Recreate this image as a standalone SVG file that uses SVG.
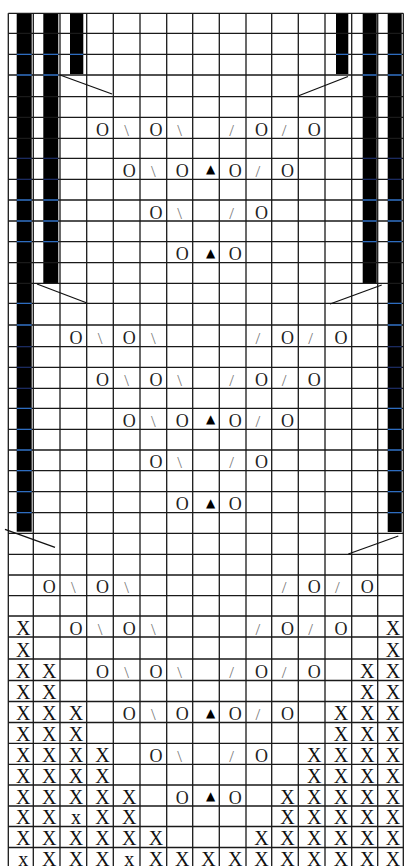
<svg xmlns="http://www.w3.org/2000/svg" width="405" height="866" viewBox="0 0 405 866">
<style>
.ln{stroke:#1a1a1a;stroke-width:1.3;fill:none}
.bar{fill:#000}
.bl{stroke:#2d6cc0;stroke-width:1.3;fill:none}
.nv{stroke:#1a2a60;stroke-width:1.3;fill:none}
.d{stroke:#111;stroke-width:1.3;fill:none}
.X{font-family:"Liberation Serif",serif;font-size:20px;fill:#111;text-anchor:middle}
.O{font-family:"Liberation Serif",serif;font-size:18px;fill:#222;text-anchor:middle}
.S{font-family:"Liberation Serif",serif;font-size:17px;fill:#777;text-anchor:middle}
.T{font-family:"DejaVu Sans",sans-serif;font-size:12px;fill:#000;text-anchor:middle}
</style>
<rect x="0" y="0" width="405" height="866" fill="#fff"/>
<g id="bars">
<rect class="bar" x="16.7" y="13.3" width="15" height="518.4"/>
<rect class="bar" x="43.3" y="13.3" width="15" height="269.7"/>
<rect class="bar" x="70" y="13.3" width="13.3" height="60.7"/>
<rect class="bar" x="336" y="13.3" width="12.3" height="60.7"/>
<rect class="bar" x="362.7" y="13.3" width="14" height="269.7"/>
<rect class="bar" x="387.7" y="13.3" width="14" height="518.7"/>
</g>
<g id="grid">
<path class="ln" d="M8.3 13.3H403.3M8.3 33.3H403.3M8.3 54.3H403.3M8.3 75H403.3M8.3 96.7H403.3M8.3 117.3H403.3M8.3 138.3H403.3M8.3 158.3H403.3M8.3 179.3H403.3M8.3 200H403.3M8.3 221H403.3M8.3 241.7H403.3M8.3 262.7H403.3M8.3 283.3H403.3M8.3 303.3H403.3M8.3 325H403.3M8.3 346.7H403.3M8.3 367.3H403.3M8.3 388.3H403.3M8.3 408.3H403.3M8.3 429.3H403.3M8.3 450H403.3M8.3 470.7H403.3M8.3 491.7H403.3M8.3 512.7H403.3M8.3 533.3H403.3M8.3 554.3H403.3M8.3 575H403.3M8.3 595.7H403.3M8.3 616H403.3M8.3 637H403.3M8.3 659H403.3M8.3 680.5H403.3M8.3 701.5H403.3M8.3 722.5H403.3M8.3 743.3H403.3M8.3 764.3H403.3M8.3 785H403.3M8.3 806H403.3M8.3 826.5H403.3M8.3 847.5H403.3"/>
<path class="ln" d="M8.3 13.3V866M33.3 13.3V866M60 13.3V866M86.7 13.3V866M113.3 13.3V866M140 13.3V866M166.7 13.3V866M192.7 13.3V866M219.3 13.3V866M246 13.3V866M271.7 13.3V866M298.3 13.3V866M325 13.3V866M351.7 13.3V866M377.7 13.3V866M403.3 13.3V866"/>
<path class="bl" d="M16.7 54.3H31.7M43.3 54.3H58.3M70 54.3H83.3M336 54.3H348.3M362.7 54.3H376.7M387.7 54.3H401.7M16.7 75H31.7M43.3 75H58.3M362.7 75H376.7M387.7 75H401.7M16.7 200H31.7M43.3 200H58.3M362.7 200H376.7M387.7 200H401.7M16.7 221H31.7M43.3 221H58.3M362.7 221H376.7M387.7 221H401.7M16.7 241.7H31.7M43.3 241.7H58.3M362.7 241.7H376.7M387.7 241.7H401.7M16.7 303.3H31.7M387.7 303.3H401.7M16.7 325H31.7M387.7 325H401.7M16.7 408.3H31.7M387.7 408.3H401.7M16.7 429.3H31.7M387.7 429.3H401.7M16.7 450H31.7M387.7 450H401.7M16.7 470.7H31.7M387.7 470.7H401.7M16.7 491.7H31.7M387.7 491.7H401.7M16.7 512.7H31.7M387.7 512.7H401.7"/>
<path class="nv" d="M16.7 158.3H31.7M43.3 158.3H58.3M362.7 158.3H376.7M387.7 158.3H401.7M16.7 179.3H31.7M43.3 179.3H58.3M362.7 179.3H376.7M387.7 179.3H401.7M16.7 346.7H31.7M387.7 346.7H401.7M16.7 367.3H31.7M387.7 367.3H401.7M16.7 388.3H31.7M387.7 388.3H401.7"/>
</g>
<g id="connectors">
<line class="d" x1="60" y1="75" x2="112" y2="94"/>
<line class="d" x1="348" y1="76.5" x2="298" y2="96"/>
<line class="d" x1="37" y1="284" x2="87" y2="303"/>
<line class="d" x1="381.7" y1="285" x2="330" y2="304"/>
<line class="d" x1="5" y1="529.3" x2="55" y2="547.3"/>
<line class="d" x1="398.3" y1="536" x2="348.3" y2="554"/>
</g>
<g id="symbols">
<text class="O" x="102.5" y="135.8">O</text><text class="S" x="126.7" y="135.8">\</text><text class="O" x="155.9" y="135.8">O</text><text class="S" x="179.7" y="135.8">\</text><text class="S" x="231.6" y="135.8">/</text><text class="O" x="261.4" y="135.8">O</text><text class="S" x="284" y="135.8">/</text><text class="O" x="314.2" y="135.8">O</text>
<text class="O" x="129.2" y="176.8">O</text><text class="S" x="153.4" y="176.8">\</text><text class="O" x="182.2" y="176.8">O</text><text class="T" x="210.5" y="173.3">▲</text><text class="O" x="235.2" y="176.8">O</text><text class="S" x="257.9" y="176.8">/</text><text class="O" x="287.5" y="176.8">O</text>
<text class="O" x="155.9" y="218.5">O</text><text class="S" x="179.7" y="218.5">\</text><text class="S" x="231.6" y="218.5">/</text><text class="O" x="261.4" y="218.5">O</text>
<text class="O" x="182.2" y="260.2">O</text><text class="T" x="210.5" y="256.7">▲</text><text class="O" x="235.2" y="260.2">O</text>
<text class="O" x="75.9" y="344.2">O</text><text class="S" x="100" y="344.2">\</text><text class="O" x="129.2" y="344.2">O</text><text class="S" x="153.4" y="344.2">\</text><text class="S" x="257.9" y="344.2">/</text><text class="O" x="287.5" y="344.2">O</text><text class="S" x="310.7" y="344.2">/</text><text class="O" x="340.9" y="344.2">O</text>
<text class="O" x="102.5" y="385.8">O</text><text class="S" x="126.7" y="385.8">\</text><text class="O" x="155.9" y="385.8">O</text><text class="S" x="179.7" y="385.8">\</text><text class="S" x="231.6" y="385.8">/</text><text class="O" x="261.4" y="385.8">O</text><text class="S" x="284" y="385.8">/</text><text class="O" x="314.2" y="385.8">O</text>
<text class="O" x="129.2" y="426.8">O</text><text class="S" x="153.4" y="426.8">\</text><text class="O" x="182.2" y="426.8">O</text><text class="T" x="210.5" y="423.3">▲</text><text class="O" x="235.2" y="426.8">O</text><text class="S" x="257.9" y="426.8">/</text><text class="O" x="287.5" y="426.8">O</text>
<text class="O" x="155.9" y="468.2">O</text><text class="S" x="179.7" y="468.2">\</text><text class="S" x="231.6" y="468.2">/</text><text class="O" x="261.4" y="468.2">O</text>
<text class="O" x="182.2" y="510.2">O</text><text class="T" x="210.5" y="506.7">▲</text><text class="O" x="235.2" y="510.2">O</text>
<text class="O" x="49.2" y="593.2">O</text><text class="S" x="73.4" y="593.2">\</text><text class="O" x="102.5" y="593.2">O</text><text class="S" x="126.7" y="593.2">\</text><text class="S" x="284" y="593.2">/</text><text class="O" x="314.2" y="593.2">O</text><text class="S" x="337.4" y="593.2">/</text><text class="O" x="367.2" y="593.2">O</text>
<text class="X" x="23.3" y="634.5">X</text><text class="O" x="75.9" y="634.5">O</text><text class="S" x="100" y="634.5">\</text><text class="O" x="129.2" y="634.5">O</text><text class="S" x="153.4" y="634.5">\</text><text class="S" x="257.9" y="634.5">/</text><text class="O" x="287.5" y="634.5">O</text><text class="S" x="310.7" y="634.5">/</text><text class="O" x="340.9" y="634.5">O</text><text class="X" x="393" y="634.5">X</text>
<text class="X" x="23.3" y="656.5">X</text><text class="X" x="393" y="656.5">X</text>
<text class="X" x="23.3" y="678">X</text><text class="X" x="49.2" y="678">X</text><text class="O" x="102.5" y="678">O</text><text class="S" x="126.7" y="678">\</text><text class="O" x="155.9" y="678">O</text><text class="S" x="179.7" y="678">\</text><text class="S" x="231.6" y="678">/</text><text class="O" x="261.4" y="678">O</text><text class="S" x="284" y="678">/</text><text class="O" x="314.2" y="678">O</text><text class="X" x="367.2" y="678">X</text><text class="X" x="393" y="678">X</text>
<text class="X" x="23.3" y="699">X</text><text class="X" x="49.2" y="699">X</text><text class="X" x="367.2" y="699">X</text><text class="X" x="393" y="699">X</text>
<text class="X" x="23.3" y="720">X</text><text class="X" x="49.2" y="720">X</text><text class="X" x="75.9" y="720">X</text><text class="O" x="129.2" y="720">O</text><text class="S" x="153.4" y="720">\</text><text class="O" x="182.2" y="720">O</text><text class="T" x="210.5" y="716.5">▲</text><text class="O" x="235.2" y="720">O</text><text class="S" x="257.9" y="720">/</text><text class="O" x="287.5" y="720">O</text><text class="X" x="340.9" y="720">X</text><text class="X" x="367.2" y="720">X</text><text class="X" x="393" y="720">X</text>
<text class="X" x="23.3" y="740.8">X</text><text class="X" x="49.2" y="740.8">X</text><text class="X" x="75.9" y="740.8">X</text><text class="X" x="340.9" y="740.8">X</text><text class="X" x="367.2" y="740.8">X</text><text class="X" x="393" y="740.8">X</text>
<text class="X" x="23.3" y="761.8">X</text><text class="X" x="49.2" y="761.8">X</text><text class="X" x="75.9" y="761.8">X</text><text class="X" x="102.5" y="761.8">X</text><text class="O" x="155.9" y="761.8">O</text><text class="S" x="179.7" y="761.8">\</text><text class="S" x="231.6" y="761.8">/</text><text class="O" x="261.4" y="761.8">O</text><text class="X" x="314.2" y="761.8">X</text><text class="X" x="340.9" y="761.8">X</text><text class="X" x="367.2" y="761.8">X</text><text class="X" x="393" y="761.8">X</text>
<text class="X" x="23.3" y="782.5">X</text><text class="X" x="49.2" y="782.5">X</text><text class="X" x="75.9" y="782.5">X</text><text class="X" x="102.5" y="782.5">X</text><text class="X" x="314.2" y="782.5">X</text><text class="X" x="340.9" y="782.5">X</text><text class="X" x="367.2" y="782.5">X</text><text class="X" x="393" y="782.5">X</text>
<text class="X" x="23.3" y="803.5">X</text><text class="X" x="49.2" y="803.5">X</text><text class="X" x="75.9" y="803.5">X</text><text class="X" x="102.5" y="803.5">X</text><text class="X" x="129.2" y="803.5">X</text><text class="O" x="182.2" y="803.5">O</text><text class="T" x="210.5" y="800">▲</text><text class="O" x="235.2" y="803.5">O</text><text class="X" x="287.5" y="803.5">X</text><text class="X" x="314.2" y="803.5">X</text><text class="X" x="340.9" y="803.5">X</text><text class="X" x="367.2" y="803.5">X</text><text class="X" x="393" y="803.5">X</text>
<text class="X" x="23.3" y="824">X</text><text class="X" x="49.2" y="824">X</text><text class="X" x="75.9" y="824">x</text><text class="X" x="102.5" y="824">X</text><text class="X" x="129.2" y="824">X</text><text class="X" x="287.5" y="824">X</text><text class="X" x="314.2" y="824">X</text><text class="X" x="340.9" y="824">X</text><text class="X" x="367.2" y="824">X</text><text class="X" x="393" y="824">X</text>
<text class="X" x="23.3" y="845">X</text><text class="X" x="49.2" y="845">X</text><text class="X" x="75.9" y="845">X</text><text class="X" x="102.5" y="845">X</text><text class="X" x="129.2" y="845">X</text><text class="X" x="155.9" y="845">X</text><text class="X" x="261.4" y="845">X</text><text class="X" x="287.5" y="845">X</text><text class="X" x="314.2" y="845">X</text><text class="X" x="340.9" y="845">X</text><text class="X" x="367.2" y="845">X</text><text class="X" x="393" y="845">X</text>
<text class="X" x="23.3" y="865.8">x</text><text class="X" x="49.2" y="865.8">X</text><text class="X" x="75.9" y="865.8">X</text><text class="X" x="102.5" y="865.8">X</text><text class="X" x="129.2" y="865.8">x</text><text class="X" x="155.9" y="865.8">X</text><text class="X" x="182.2" y="865.8">X</text><text class="X" x="208.5" y="865.8">X</text><text class="X" x="235.2" y="865.8">X</text><text class="X" x="261.4" y="865.8">X</text><text class="X" x="287.5" y="865.8">X</text><text class="X" x="314.2" y="865.8">X</text><text class="X" x="340.9" y="865.8">X</text><text class="X" x="367.2" y="865.8">X</text><text class="X" x="393" y="865.8">X</text>
</g>
</svg>
